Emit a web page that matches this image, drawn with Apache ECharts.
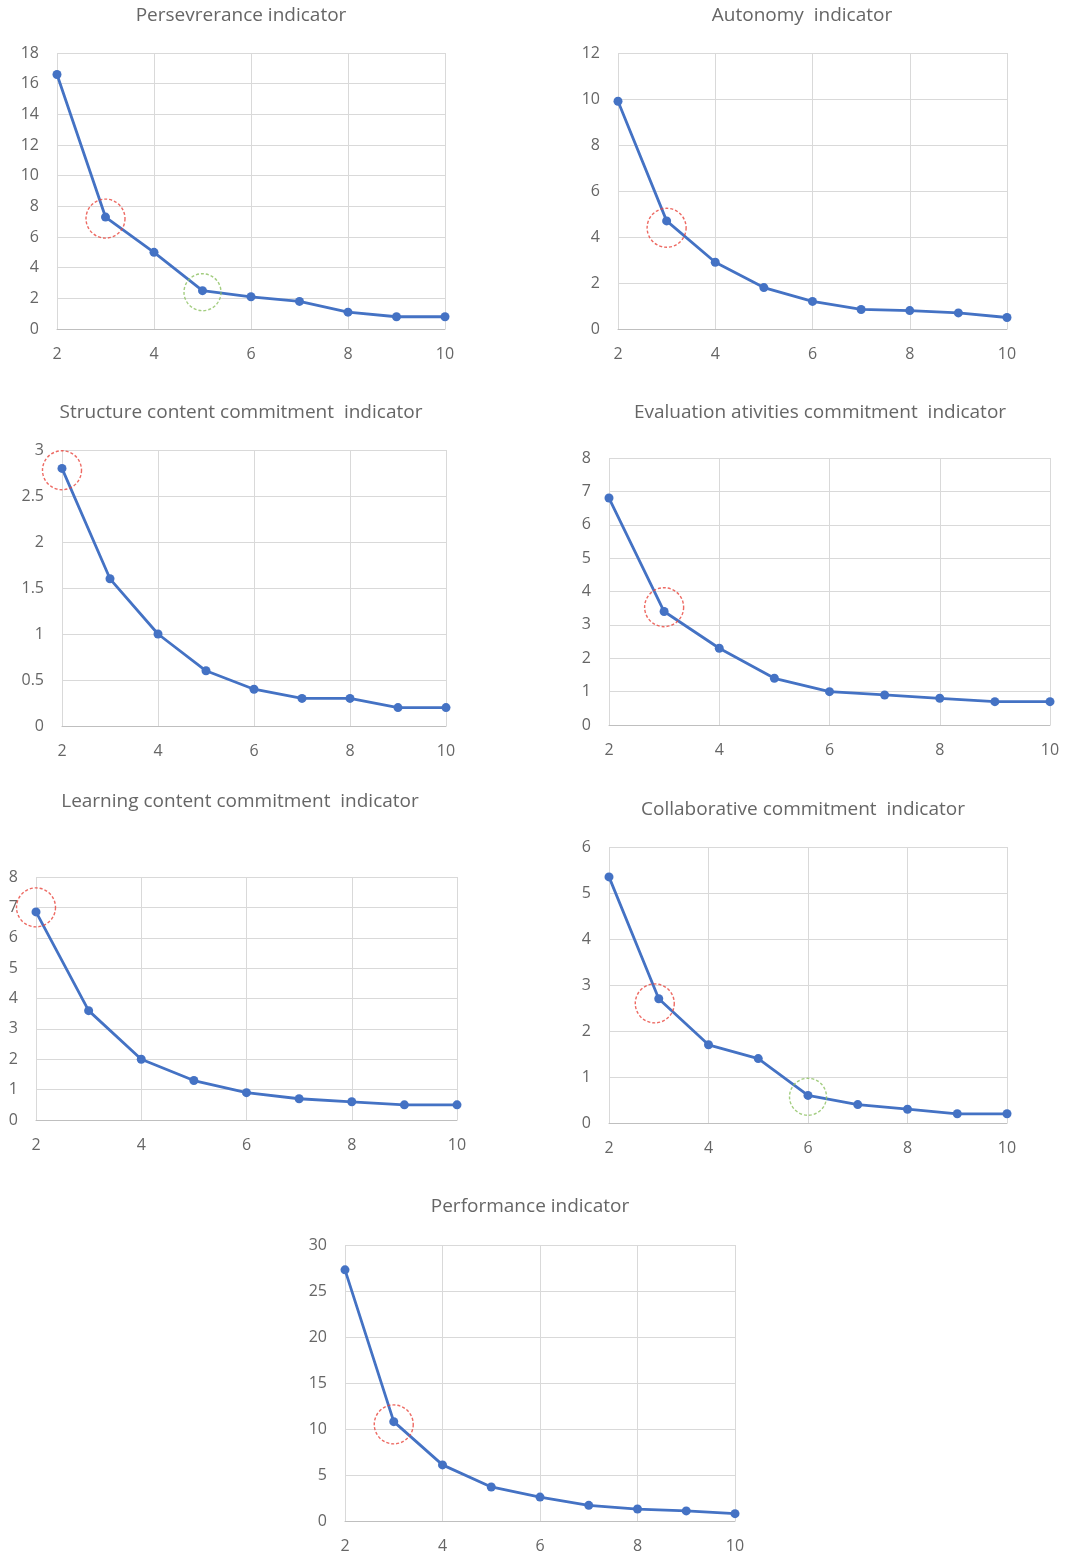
<!DOCTYPE html>
<html>
<head>
<meta charset="utf-8">
<script src="https://cdn.jsdelivr.net/npm/echarts@6/dist/echarts.min.js"></script>
<style>
html,body{margin:0;padding:0;background:#fff;}
#main{width:1067px;height:1554px;}
</style>
</head>
<body>
<div id="main"></div>
<script>
// ---- Data ----
const clusters = [2, 3, 4, 5, 6, 7, 8, 9, 10];

const perseverance = [16.6, 7.3, 5.0, 2.5, 2.1, 1.8, 1.1, 0.8, 0.8];
const autonomy = [9.9, 4.7, 2.9, 1.8, 1.2, 0.85, 0.8, 0.7, 0.5];
const structureContent = [2.8, 1.6, 1.0, 0.6, 0.4, 0.3, 0.3, 0.2, 0.2];
const evaluationActivities = [6.8, 3.4, 2.3, 1.4, 1.0, 0.9, 0.8, 0.7, 0.7];
const learningContent = [6.85, 3.6, 2.0, 1.3, 0.9, 0.7, 0.6, 0.5, 0.5];
const collaborative = [5.35, 2.7, 1.7, 1.4, 0.6, 0.4, 0.3, 0.2, 0.2];
const performance = [27.3, 10.8, 6.1, 3.7, 2.6, 1.7, 1.3, 1.1, 0.8];

const titles = [
  "Persevrerance indicator",
  "Autonomy  indicator",
  "Structure content commitment  indicator",
  "Evaluation ativities commitment  indicator",
  "Learning content commitment  indicator",
  "Collaborative commitment  indicator",
  "Performance indicator"
];

// y-axis tick settings [max, interval]
const yMax = [18, 12, 3, 8, 8, 6, 30];
const yInterval = [2, 2, 0.5, 1, 1, 1, 5];

// annotation circles (x, y)
const redCircles = [[[3, 7.2]], [[3, 4.4]], [[2, 2.78]], [[3, 3.53]], [[2, 7.0]], [[2.92, 2.6]], [[3, 10.5]]];
const greenCircles = [[[5, 2.4]], [], [], [], [], [[6, 0.57]], []];

// ---- Layout (positions only) ----
const layout = [
  {left: 57, top: 53, width: 388, height: 276, tx: 241, ty: 16},
  {left: 618, top: 53, width: 389, height: 276, tx: 802, ty: 16},
  {left: 62, top: 450, width: 384, height: 276, tx: 241, ty: 413},
  {left: 609, top: 458, width: 441, height: 267, tx: 820, ty: 413},
  {left: 36, top: 877, width: 421, height: 243, tx: 240, ty: 802},
  {left: 609, top: 847, width: 398, height: 276, tx: 803, ty: 810},
  {left: 345, top: 1245, width: 390, height: 276, tx: 530, ty: 1207}
];

const seriesData = [perseverance, autonomy, structureContent, evaluationActivities, learningContent, collaborative, performance];

const FONT = "'Open Sans', 'Noto Sans', sans-serif";
const TEXT_COLOR = '#666666';
const LINE_COLOR = '#4472C4';

const grid = [], xAxis = [], yAxis = [], series = [], graphic = [];

seriesData.forEach((vals, i) => {
  const L = layout[i];
  grid.push({left: L.left, top: L.top, width: L.width, height: L.height});
  xAxis.push({
    type: 'value', gridIndex: i, min: 2, max: 10, interval: 2,
    axisLine: {show: true, lineStyle: {color: '#bfbfbf', width: 1}},
    axisTick: {show: false},
    splitLine: {show: true, lineStyle: {color: '#d9d9d9', width: 1}},
    axisLabel: {color: TEXT_COLOR, fontSize: 16, fontFamily: FONT, margin: 17}
  });
  yAxis.push({
    type: 'value', gridIndex: i, min: 0, max: yMax[i], interval: yInterval[i],
    axisLine: {show: false},
    axisTick: {show: false},
    splitLine: {show: true, lineStyle: {color: '#d9d9d9', width: 1}},
    axisLabel: {color: TEXT_COLOR, fontSize: 16, fontFamily: FONT, margin: 18}
  });
  series.push({
    type: 'line', xAxisIndex: i, yAxisIndex: i,
    data: clusters.map((c, k) => [c, vals[k]]),
    symbol: 'circle', symbolSize: 9,
    lineStyle: {color: LINE_COLOR, width: 2.8},
    itemStyle: {color: LINE_COLOR},
    clip: false, z: 3
  });
  if (redCircles[i].length) {
    series.push({
      type: 'scatter', xAxisIndex: i, yAxisIndex: i,
      data: redCircles[i], symbol: 'circle', symbolSize: 39,
      itemStyle: {color: 'rgba(0,0,0,0)', borderColor: '#e8453c', borderWidth: 1.4, borderType: [3, 2]},
      clip: false, z: 4, silent: true
    });
  }
  if (greenCircles[i].length) {
    series.push({
      type: 'scatter', xAxisIndex: i, yAxisIndex: i,
      data: greenCircles[i], symbol: 'circle', symbolSize: 37,
      itemStyle: {color: 'rgba(0,0,0,0)', borderColor: '#8cc060', borderWidth: 1.4, borderType: [3, 2]},
      clip: false, z: 4, silent: true
    });
  }
  graphic.push({
    type: 'text', x: L.tx, y: L.ty,
    style: {text: titles[i], fill: TEXT_COLOR, font: '19px ' + FONT, textAlign: 'center', textVerticalAlign: 'middle'}
  });
});

const chart = echarts.init(document.getElementById('main'));
chart.setOption({
  animation: false,
  backgroundColor: '#ffffff',
  grid, xAxis, yAxis, series, graphic
});
</script>
</body>
</html>
